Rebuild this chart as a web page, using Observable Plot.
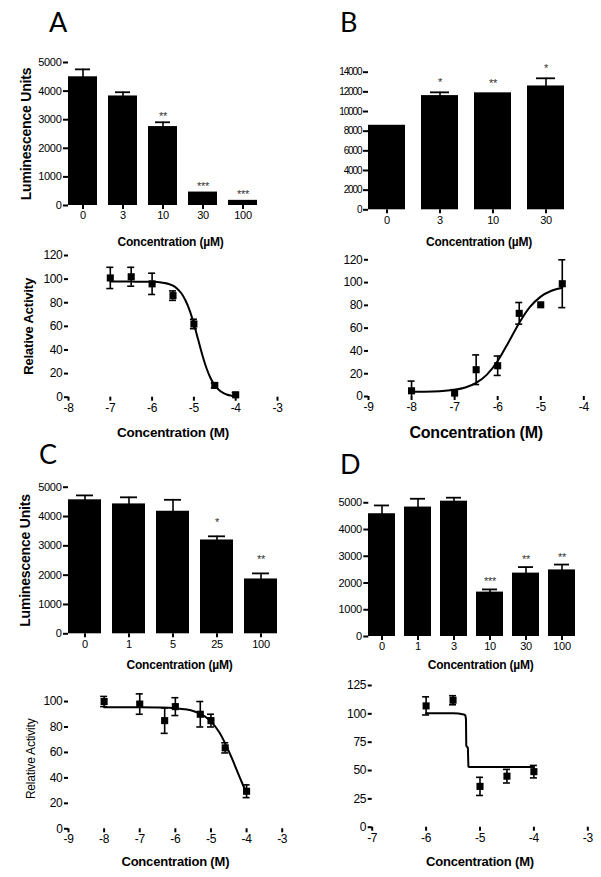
<!DOCTYPE html>
<html><head><meta charset="utf-8">
<script src="https://cdn.jsdelivr.net/npm/d3@7"></script>
<script src="https://cdn.jsdelivr.net/npm/@observablehq/plot@0.6"></script>
<style>
html,body{margin:0;padding:0;background:#fff}
body{width:601px;height:877px;position:relative;overflow:hidden}
.panel{position:absolute}
.panel svg{background:transparent !important;overflow:visible}
.letter{position:absolute;font-family:Lato,"Open Sans",sans-serif;font-size:27px;line-height:1;color:#000}
svg text{letter-spacing:-0.3px}
#pb1 [aria-label="y-axis tick label"] text{letter-spacing:-1.1px}
[aria-label="x-axis label"] text,[aria-label="y-axis label"] text{font-weight:bold;letter-spacing:-0.2px}
#pa1 [aria-label="x-axis label"] text,#pb1 [aria-label="x-axis label"] text,#pc1 [aria-label="x-axis label"] text,#pd1 [aria-label="x-axis label"] text{font-size:12px}
#pa1 [aria-label="y-axis label"] text,#pc1 [aria-label="y-axis label"] text{font-size:14px}
#pa2 [aria-label="y-axis label"] text{font-size:13px}
#pa2 [aria-label="x-axis label"] text{font-size:13.5px}
#pb2 [aria-label="x-axis label"] text{font-size:16px}
#pc2 [aria-label="x-axis label"] text,#pd2 [aria-label="x-axis label"] text{font-size:13px}
#pc2 [aria-label="y-axis label"] text{font-size:12px;font-weight:normal}
</style></head><body>
<div class="letter" style="left:49px;top:8px">A</div>
<div class="letter" style="left:340px;top:8px">B</div>
<div class="letter" style="left:39px;top:440px">C</div>
<div class="letter" style="left:340px;top:450px">D</div>
<script>
// ---------- Panel A ----------
const aConc = ["0", "3", "10", "30", "100"];
const aLum = [4500, 3830, 2760, 470, 180];
const aLumErr = [260, 130, 150, 0, 0];
const aStars = ["", "", "**", "***", "***"];
const aLogM = [-7, -6.5, -6, -5.5, -5, -4.5, -4];
const aAct = [101, 102, 96, 86, 62, 10, 2];
const aActErr = [9, 8, 9, 4, 4, 2, 2];
const aFitX = [-7, -6.5, -6, -5.75, -5.5, -5.4, -5.3, -5.2, -5.1, -5.0, -4.9, -4.8, -4.7, -4.6, -4.5, -4.4, -4.3, -4.2, -4.1, -4.0];
const aFitY = [98, 97.9, 97.7, 97, 94.4, 91.9, 88, 81.9, 73.3, 62, 49, 36, 24.7, 16, 10, 6.1, 3.6, 2.1, 1.3, 0.7];

// ---------- Panel B ----------
const bConc = ["0", "3", "10", "30"];
const bLum = [8600, 11620, 11900, 12600];
const bLumErr = [0, 330, 0, 780];
const bStars = ["", "*", "**", "*"];
const bLogM = [-8, -7, -6.5, -6, -5.5, -5, -4.5];
const bAct = [5, 3, 23.5, 27, 73, 80.5, 99];
const bActErr = [8.5, 3, 13, 8.5, 9.5, 0, 21];
const bFitX = [-8, -7.5, -7, -6.75, -6.5, -6.25, -6, -5.75, -5.5, -5.25, -5, -4.75, -4.5];
const bFitY = [4.1, 4.4, 5.9, 7.9, 11.9, 19.2, 31.2, 47.5, 64.6, 78.6, 87.7, 92.8, 95.5];

// ---------- Panel C ----------
const cConc = ["0", "1", "5", "25", "100"];
const cLum = [4570, 4430, 4180, 3200, 1870];
const cLumErr = [150, 225, 390, 125, 190];
const cStars = ["", "", "", "*", "**"];
const cLogM = [-8, -7, -6.3, -6, -5.3, -5, -4.6, -4];
const cAct = [100, 98, 85, 96, 90, 85, 63.6, 29.5];
const cActErr = [4, 8, 10, 7, 10, 5, 4, 5];
const cFitX = [-8, -7, -6.5, -6, -5.75, -5.5, -5.25, -5, -4.875, -4.75, -4.625, -4.5, -4.375, -4.25, -4.125, -4];
const cFitY = [95.5, 95.5, 95.3, 94.8, 94.0, 92.6, 89.7, 84.3, 80.2, 75, 68.5, 61, 52.9, 44.3, 36, 28.3];

// ---------- Panel D ----------
const dConc = ["0", "1", "3", "10", "30", "100"];
const dLum = [4590, 4840, 5060, 1660, 2370, 2490];
const dLumErr = [310, 310, 130, 100, 225, 200];
const dStars = ["", "", "", "***", "**", "**"];
const dLogM = [-6, -5.5, -5, -4.5, -4];
const dAct = [107, 112, 36, 45, 49];
const dActErr = [8, 4, 8, 6, 5.5];
const dFitX = [-6, -5.5, -5.4, -5.3, -5.27, -5.26, -5.255, -5.225, -5.215, -5.2, -4];
const dFitY = [100.5, 100.5, 100.3, 99.5, 98.5, 95, 72, 70, 53.5, 53, 53];

// tick values
const lumTicks5000 = [0, 1000, 2000, 3000, 4000, 5000];
const lumTicks14000 = [0, 2000, 4000, 6000, 8000, 10000, 12000, 14000];
const actTicks120 = [0, 20, 40, 60, 80, 100, 120];
const actTicks100 = [0, 20, 40, 60, 80, 100];
const actTicks125 = [0, 25, 50, 75, 100, 125];
const logTicksA = [-8, -7, -6, -5, -4, -3];
const logTicksB = [-9, -8, -7, -6, -5, -4];
const logTicksC = [-9, -8, -7, -6, -5, -4, -3];
const logTicksD = [-7, -6, -5, -4, -3];

const FONT = '"Liberation Sans", Arial, Helvetica, sans-serif';

function place(id, left, top, svg) {
  const div = document.createElement("div");
  div.className = "panel";
  div.id = id;
  div.style.left = left + "px";
  div.style.top = top + "px";
  div.appendChild(svg);
  document.body.appendChild(div);
}

function barPanel(c) {
  const rows = c.cats.map((k, i) => ({k, v: c.vals[i], e: c.errs[i], s: c.stars[i]}));
  const withErr = rows.filter(d => d.e > 0);
  return Plot.plot({
    width: c.w, height: c.h,
    marginLeft: c.ml, marginRight: c.mr, marginTop: c.mt, marginBottom: c.mb,
    style: {fontFamily: FONT, fontSize: c.fs + "px", color: "#000", background: "transparent", overflow: "visible"},
    x: {domain: c.cats, paddingInner: c.pi, paddingOuter: c.po, align: 0},
    y: {domain: c.yDomain},
    marks: [
      Plot.barY(rows, {x: "k", y: "v", fill: "#000"}),
      Plot.ruleX(withErr, {x: "k", y1: d => d.v - d.e, y2: d => d.v + d.e, stroke: "#000", strokeWidth: 1.6}),
      Plot.tickY(withErr, {x: "k", y: d => d.v + d.e, stroke: "#000", strokeWidth: 1.8, insetLeft: c.cap, insetRight: c.cap}),
      Plot.text(rows.filter(d => d.s), {x: "k", y: d => d.v + d.e, text: "s", dy: c.starDy, fontSize: 11, fill: "#333"}),
      Plot.axisX({tickSize: 4, tickPadding: 2, strokeWidth: 2, line: true, fontSize: 11,
        label: c.xLabel, labelAnchor: "center", labelOffset: c.xlo, labelArrow: "none", tickFormat: d => d}),
      Plot.axisY(c.yTicks, {tickSize: 5, tickPadding: 2, strokeWidth: 2, line: true, tickFormat: d3.format("d"),
        label: c.yLabel ?? null, labelAnchor: "center", labelOffset: c.ylo, labelArrow: "none"})
    ]
  });
}

function curvePanel(c) {
  const pts = c.xs.map((x, i) => ({x, y: c.ys[i], e: c.es[i]}));
  const withErr = pts.filter(d => d.e > 0);
  const fit = c.fx.map((x, i) => ({x, y: c.fy[i]}));
  return Plot.plot({
    width: c.w, height: c.h,
    marginLeft: c.ml, marginRight: c.mr, marginTop: c.mt, marginBottom: c.mb,
    style: {fontFamily: FONT, fontSize: "12px", color: "#000", background: "transparent", overflow: "visible"},
    x: {domain: c.xDomain},
    y: {domain: c.yDomain},
    marks: [
      Plot.line(fit, {x: "x", y: "y", stroke: "#000", strokeWidth: 2, curve: c.curve}),
      Plot.ruleX(withErr, {x: "x", y1: d => Math.max(0, d.y - d.e), y2: d => d.y + d.e, stroke: "#000", strokeWidth: 1.6}),
      Plot.ruleY(withErr, {x1: "x", x2: "x", y: d => d.y + d.e, stroke: "#000", strokeWidth: 1.6, insetLeft: -3.5, insetRight: -3.5}),
      Plot.ruleY(withErr.filter(d => d.y - d.e > 0), {x1: "x", x2: "x", y: d => d.y - d.e, stroke: "#000", strokeWidth: 1.6, insetLeft: -3.5, insetRight: -3.5}),
      Plot.dot(pts, {x: "x", y: "y", symbol: "square", r: 4, fill: "#000", stroke: "none"}),
      Plot.axisX(c.xTicks, {tickSize: 4, tickPadding: 2, strokeWidth: 2, line: true, tickFormat: d => String(d),
        label: c.xLabel, labelAnchor: "center", labelOffset: c.xlo, labelArrow: "none"}),
      Plot.axisY(c.yTicks, {tickSize: 4, tickPadding: 2, strokeWidth: 2, line: true, tickFormat: d => String(d),
        label: c.yLabel ?? null, labelAnchor: "center", labelOffset: c.ylo, labelArrow: "none"})
    ]
  });
}

const muLabel = "Concentration (\u00B5M)";
const mLabel = "Concentration (M)";

place("pa1", 0, 40, barPanel({w: 290, h: 215, ml: 68, mr: 18, mt: 22, mb: 50, fs: 11,
  cats: aConc, vals: aLum, errs: aLumErr, stars: aStars, yDomain: [0, 5000], yTicks: lumTicks5000,
  pi: 0.28, po: 0.15, cap: 7, starDy: -5.5, xLabel: muLabel, xlo: 40, yLabel: "Luminescence Units", ylo: 47}));

place("pb1", 300, 40, barPanel({w: 300, h: 215, ml: 68, mr: 11, mt: 31.7, mb: 45.7, fs: 10,
  cats: bConc, vals: bLum, errs: bLumErr, stars: bStars, yDomain: [0, 14000], yTicks: lumTicks14000,
  pi: 0.3, po: 0.2, cap: 9, starDy: -9.5, xLabel: muLabel, xlo: 36}));

place("pc1", 0, 460, barPanel({w: 300, h: 220, ml: 68, mr: 10, mt: 26.7, mb: 46.7, fs: 11,
  cats: cConc, vals: cLum, errs: cLumErr, stars: cStars, yDomain: [0, 5000], yTicks: lumTicks5000,
  pi: 0.25, po: 0.136, cap: 8, starDy: -13.5, xLabel: muLabel, xlo: 35, yLabel: "Luminescence Units", ylo: 48}));

place("pd1", 300, 460, barPanel({w: 300, h: 222, ml: 68.3, mr: 8, mt: 28.9, mb: 46, fs: 11,
  cats: dConc, vals: dLum, errs: dLumErr, stars: dStars, yDomain: [0, 5500], yTicks: lumTicks5000,
  pi: 0.257, po: 0.155, cap: 6, starDy: -7.5, xLabel: muLabel, xlo: 32}));

place("pa2", 0, 243, curvePanel({w: 290, h: 200, ml: 68, mr: 13, mt: 12, mb: 46.3,
  xs: aLogM, ys: aAct, es: aActErr, fx: aFitX, fy: aFitY, curve: "monotone-x",
  xDomain: [-8, -3], yDomain: [0, 120], xTicks: logTicksA, yTicks: actTicks120,
  xLabel: mLabel, xlo: 40, yLabel: "Relative Activity", ylo: 45}));

place("pb2", 300, 243, curvePanel({w: 300, h: 200, ml: 68, mr: 16.7, mt: 10.6, mb: 47,
  xs: bLogM, ys: bAct, es: bActErr, fx: bFitX, fy: bFitY, curve: "monotone-x",
  xDomain: [-9, -4], yDomain: [0, 125], xTicks: logTicksB, yTicks: actTicks120,
  xLabel: mLabel, xlo: 41}));

place("pc2", 0, 672, curvePanel({w: 290, h: 205, ml: 68, mr: 8.3, mt: 16.3, mb: 48.7,
  xs: cLogM, ys: cAct, es: cActErr, fx: cFitX, fy: cFitY, curve: "monotone-x",
  xDomain: [-9, -3], yDomain: [0, 110], xTicks: logTicksC, yTicks: actTicks100,
  xLabel: mLabel, xlo: 37.4, yLabel: "Relative Activity", ylo: 42}));

place("pd2", 300, 672, curvePanel({w: 300, h: 205, ml: 71.7, mr: 12.7, mt: 13, mb: 50.3,
  xs: dLogM, ys: dAct, es: dActErr, fx: dFitX, fy: dFitY, curve: "linear",
  xDomain: [-7, -3], yDomain: [0, 125], xTicks: logTicksD, yTicks: actTicks125,
  xLabel: mLabel, xlo: 39}));
</script>
</body></html>
